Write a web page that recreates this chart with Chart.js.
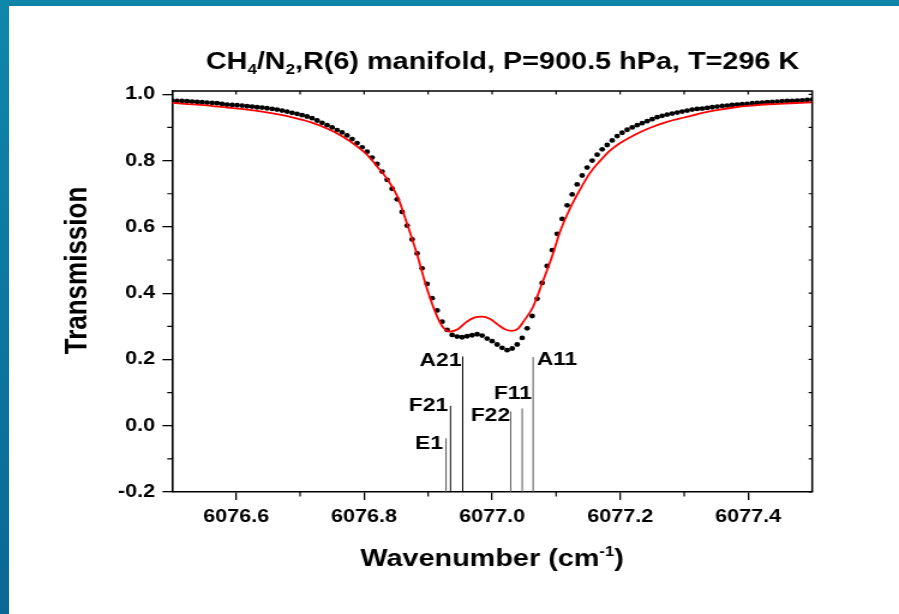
<!DOCTYPE html>
<html>
<head>
<meta charset="utf-8">
<title>CH4/N2 R(6) manifold</title>
<script src="https://cdn.jsdelivr.net/npm/chart.js@4.4.1/dist/chart.umd.min.js"></script>
<style>
  html, body { margin: 0; padding: 0; background: #fff; }
  body { width: 899px; height: 614px; overflow: hidden; position: relative; }
  #edgeTop { position: absolute; left: 0; top: 0; width: 899px; height: 6px; background: #0e85a8; z-index: 2; }
  #edgeLeft { position: absolute; left: 0; top: 0; width: 9px; height: 614px;
              background: linear-gradient(to bottom, #0e87aa, #0a6894); z-index: 2; }
  #plot { position: absolute; left: 0; top: 0; width: 749px; height: 614px;
          transform: scaleX(1.2003); transform-origin: 0 0; }
</style>
</head>
<body>
<div id="edgeTop"></div>
<div id="edgeLeft"></div>
<div id="plot"><canvas id="chart" width="749" height="614"></canvas></div>
<script>
// Measured transmission across the R(6) manifold
const measuredWavenumber = [
  6076.5000, 6076.5078, 6076.5156, 6076.5234, 6076.5313, 6076.5391, 6076.5469, 6076.5547,
  6076.5625, 6076.5703, 6076.5781, 6076.5859, 6076.5938, 6076.6016, 6076.6094, 6076.6172,
  6076.6250, 6076.6328, 6076.6406, 6076.6484, 6076.6563, 6076.6641, 6076.6719, 6076.6797,
  6076.6875, 6076.6953, 6076.7031, 6076.7109, 6076.7188, 6076.7266, 6076.7344, 6076.7422,
  6076.7500, 6076.7578, 6076.7656, 6076.7734, 6076.7813, 6076.7891, 6076.7969, 6076.8047,
  6076.8125, 6076.8203, 6076.8281, 6076.8359, 6076.8438, 6076.8516, 6076.8594, 6076.8672,
  6076.8750, 6076.8828, 6076.8906, 6076.8984, 6076.9063, 6076.9141, 6076.9219, 6076.9297,
  6076.9375, 6076.9453, 6076.9531, 6076.9609, 6076.9688, 6076.9766, 6076.9844, 6076.9922,
  6077.0000, 6077.0078, 6077.0156, 6077.0234, 6077.0313, 6077.0391, 6077.0469, 6077.0547,
  6077.0625, 6077.0703, 6077.0781, 6077.0859, 6077.0938, 6077.1016, 6077.1094, 6077.1172,
  6077.1250, 6077.1328, 6077.1406, 6077.1484, 6077.1563, 6077.1641, 6077.1719, 6077.1797,
  6077.1875, 6077.1953, 6077.2031, 6077.2109, 6077.2188, 6077.2266, 6077.2344, 6077.2422,
  6077.2500, 6077.2578, 6077.2656, 6077.2734, 6077.2813, 6077.2891, 6077.2969, 6077.3047,
  6077.3125, 6077.3203, 6077.3281, 6077.3359, 6077.3438, 6077.3516, 6077.3594, 6077.3672,
  6077.3750, 6077.3828, 6077.3906, 6077.3984, 6077.4063, 6077.4141, 6077.4219, 6077.4297,
  6077.4375, 6077.4453, 6077.4531, 6077.4609, 6077.4688, 6077.4766, 6077.4844, 6077.4922,
  6077.5000
];
const measuredTransmission = [
  0.981, 0.980, 0.980, 0.979, 0.978, 0.977, 0.976, 0.975, 0.974, 0.973,
  0.971, 0.969, 0.968, 0.967, 0.966, 0.964, 0.963, 0.961, 0.960, 0.958,
  0.956, 0.954, 0.951, 0.948, 0.944, 0.941, 0.937, 0.933, 0.928, 0.921,
  0.914, 0.907, 0.900, 0.892, 0.885, 0.876, 0.865, 0.853, 0.840, 0.827,
  0.809, 0.790, 0.767, 0.742, 0.715, 0.683, 0.645, 0.604, 0.562, 0.520,
  0.475, 0.428, 0.385, 0.348, 0.314, 0.289, 0.274, 0.269, 0.267, 0.270,
  0.273, 0.276, 0.272, 0.263, 0.255, 0.245, 0.235, 0.228, 0.233, 0.245,
  0.265, 0.294, 0.331, 0.383, 0.431, 0.482, 0.530, 0.579, 0.624, 0.665,
  0.698, 0.728, 0.755, 0.779, 0.800, 0.818, 0.834, 0.847, 0.861, 0.874,
  0.884, 0.893, 0.900, 0.907, 0.913, 0.919, 0.925, 0.931, 0.935, 0.939,
  0.942, 0.945, 0.948, 0.951, 0.954, 0.956, 0.957, 0.959, 0.961, 0.963,
  0.965, 0.966, 0.968, 0.969, 0.970, 0.971, 0.973, 0.974, 0.975, 0.976,
  0.977, 0.978, 0.979, 0.980, 0.980, 0.981, 0.982, 0.983, 0.984
];

// Fitted profile
const fitWavenumber = [
  6076.500, 6076.544, 6076.586, 6076.630, 6076.664, 6076.691, 6076.716, 6076.742, 6076.767, 6076.789,
  6076.805, 6076.820, 6076.836, 6076.852, 6076.867, 6076.883, 6076.898, 6076.914, 6076.923, 6076.934,
  6076.947, 6076.959, 6076.972, 6076.984, 6076.997, 6077.009, 6077.020, 6077.031, 6077.041, 6077.050,
  6077.064, 6077.080, 6077.094, 6077.106, 6077.122, 6077.138, 6077.153, 6077.169, 6077.184, 6077.200,
  6077.227, 6077.247, 6077.273, 6077.300, 6077.327, 6077.353, 6077.380, 6077.406, 6077.433, 6077.466,
  6077.500
];
const fitTransmission = [
  0.974, 0.968, 0.960, 0.951, 0.940, 0.929, 0.916, 0.897, 0.872, 0.843,
  0.817, 0.783, 0.745, 0.692, 0.610, 0.515, 0.415, 0.330, 0.298, 0.284,
  0.292, 0.312, 0.326, 0.329, 0.322, 0.305, 0.291, 0.286, 0.294, 0.317,
  0.359, 0.440, 0.513, 0.585, 0.657, 0.715, 0.763, 0.800, 0.830, 0.853,
  0.882, 0.899, 0.917, 0.930, 0.943, 0.953, 0.961, 0.966, 0.970, 0.973,
  0.976
];

// Line positions of the manifold components (stick tops on the transmission axis)
const lineNames = ['E1', 'F21', 'A21', 'F22', 'F11', 'A11'];
const linePositions = [6076.928, 6076.935, 6076.954, 6077.029, 6077.047, 6077.064];
const lineTops = [-0.038, 0.060, 0.209, 0.043, 0.052, 0.207];

// Axis ticks
const wavenumberTicks = [6076.6, 6076.8, 6077.0, 6077.2, 6077.4];
const wavenumberMinorTicks = [6076.7, 6076.9, 6077.1, 6077.3];
const transmissionTicks = [-0.2, 0.0, 0.2, 0.4, 0.6, 0.8, 1.0];
const transmissionMinorTicks = [-0.1, 0.1, 0.3, 0.5, 0.7, 0.9];

// Styling of the sticks and their labels
const lineColors = ['#555', '#111', '#000', '#555', '#555', '#555'];
const lineLabelPlacement = [
  { align: 'right', dx: -2.5, dy: 5 },
  { align: 'right', dx: -2, dy: 0 },
  { align: 'right', dx: -1, dy: 4 },
  { align: 'right', dx: -0.5, dy: 4 },
  { align: 'right', dx: 8, dy: -15 },
  { align: 'left', dx: 3, dy: 3 }
];

const FONT = "'Liberation Sans', Arial, Helvetica, sans-serif";

function drawRuns(ctx, runs, cx, baseline) {
  let total = 0;
  runs.forEach(r => {
    ctx.font = `bold ${r.size}px ${FONT}`;
    r.w = ctx.measureText(r.text).width;
    total += r.w;
  });
  let xPos = cx - total / 2;
  ctx.textAlign = 'left';
  ctx.textBaseline = 'alphabetic';
  runs.forEach(r => {
    ctx.font = `bold ${r.size}px ${FONT}`;
    ctx.fillText(r.text, xPos, baseline + (r.shift || 0));
    xPos += r.w;
  });
}

const decorations = {
  id: 'decorations',
  afterDatasetsDraw(chart) {
    const { ctx, chartArea: a, scales: { x, y } } = chart;
    ctx.save();
    ctx.strokeStyle = '#000';
    // top and right frame
    ctx.lineWidth = 1.5;
    ctx.beginPath();
    ctx.moveTo(a.left, a.top);
    ctx.lineTo(a.right, a.top);
    ctx.lineTo(a.right, a.bottom);
    ctx.stroke();
    // minor ticks outside, mirrored ticks inside
    ctx.lineWidth = 1.2;
    ctx.beginPath();
    wavenumberMinorTicks.forEach(v => {
      const px = x.getPixelForValue(v);
      ctx.moveTo(px, a.bottom); ctx.lineTo(px, a.bottom + 4.5);
    });
    transmissionMinorTicks.forEach(v => {
      const py = y.getPixelForValue(v);
      ctx.moveTo(a.left, py); ctx.lineTo(a.left - 4, py);
    });
    [...wavenumberTicks, ...wavenumberMinorTicks].forEach(v => {
      const px = x.getPixelForValue(v);
      ctx.moveTo(px, a.top); ctx.lineTo(px, a.top + 3.5);
    });
    [...transmissionTicks, ...transmissionMinorTicks].forEach(v => {
      const py = y.getPixelForValue(v);
      ctx.moveTo(a.right, py); ctx.lineTo(a.right - 3, py);
    });
    ctx.stroke();

    // component labels
    ctx.fillStyle = '#000';
    ctx.font = `bold 19px ${FONT}`;
    ctx.textBaseline = 'middle';
    lineNames.forEach((name, i) => {
      const p = lineLabelPlacement[i];
      ctx.textAlign = p.align;
      ctx.fillText(name, x.getPixelForValue(linePositions[i]) + p.dx,
                   y.getPixelForValue(lineTops[i]) + p.dy);
    });
    ctx.restore();
  },
  afterDraw(chart) {
    const { ctx, chartArea: a } = chart;
    ctx.save();
    ctx.fillStyle = '#000';
    // chart title with subscripts
    drawRuns(ctx, [
      { text: 'CH', size: 24 },
      { text: '4', size: 14, shift: 5 },
      { text: '/N', size: 24 },
      { text: '2', size: 14, shift: 5 },
      { text: ',R(6) manifold, P=900.5 hPa, T=296 K', size: 24 }
    ], 418.7, 69);
    // x axis title with superscript
    drawRuns(ctx, [
      { text: 'Wavenumber (cm', size: 24 },
      { text: '-1', size: 14, shift: -10 },
      { text: ')', size: 24 }
    ], (a.left + a.right) / 2, 566);
    // y axis title
    ctx.translate(71.7, 270.5);
    ctx.rotate(-Math.PI / 2);
    ctx.font = `bold 26px ${FONT}`;
    ctx.textAlign = 'center';
    ctx.textBaseline = 'alphabetic';
    ctx.fillText('Transmission', 0, 0);
    ctx.restore();
  }
};

const tickFont = { family: FONT, size: 18, weight: 'bold' };

const datasets = [
  {
    label: 'Fit',
    data: fitWavenumber.map((w, i) => ({ x: w, y: fitTransmission[i] })),
    borderColor: '#ff0000',
    borderWidth: 1.8,
    pointRadius: 0,
    cubicInterpolationMode: 'monotone',
    fill: false,
    order: 0
  },
  {
    label: 'Measured',
    data: measuredWavenumber.map((w, i) => ({ x: w, y: measuredTransmission[i] })),
    showLine: false,
    pointRadius: 2.4,
    pointBackgroundColor: '#000',
    pointBorderWidth: 0,
    order: 1
  },
  ...lineNames.map((name, i) => ({
    label: name,
    data: [{ x: linePositions[i], y: -0.2 }, { x: linePositions[i], y: lineTops[i] }],
    borderColor: lineColors[i],
    borderWidth: 1,
    pointRadius: 0,
    order: 2
  }))
];

new Chart(document.getElementById('chart'), {
  type: 'line',
  data: { datasets },
  plugins: [decorations],
  options: {
    responsive: false,
    animation: false,
    devicePixelRatio: 1,
    events: [],
    layout: { padding: { top: 91, right: 72.33, bottom: 0, left: 0 } },
    plugins: { legend: { display: false }, tooltip: { enabled: false } },
    scales: {
      x: {
        type: 'linear',
        min: 6076.5,
        max: 6077.5,
        afterBuildTicks: s => { s.ticks = wavenumberTicks.map(v => ({ value: v })); },
        afterFit: s => { s.height = 122; s.paddingLeft = 0; s.paddingRight = 0; },
        ticks: {
          font: tickFont, color: '#000', padding: 6, maxRotation: 0, autoSkip: false,
          callback: v => Number(v).toFixed(1)
        },
        grid: { drawOnChartArea: false, drawTicks: true, tickLength: 8, color: '#000', lineWidth: 1.3 },
        border: { display: true, color: '#000', width: 1.6 }
      },
      y: {
        type: 'linear',
        min: -0.2,
        max: 1.01,
        afterBuildTicks: s => { s.ticks = transmissionTicks.map(v => ({ value: v })); },
        afterFit: s => { s.width = 143.33; s.paddingTop = 0; s.paddingBottom = 0; },
        ticks: {
          font: tickFont, color: '#000', padding: 6, autoSkip: false,
          callback: v => Number(v).toFixed(1)
        },
        grid: { drawOnChartArea: false, drawTicks: true, tickLength: 8, color: '#000', lineWidth: 1.3 },
        border: { display: true, color: '#000', width: 1.6 }
      }
    }
  }
});
</script>
</body>
</html>
